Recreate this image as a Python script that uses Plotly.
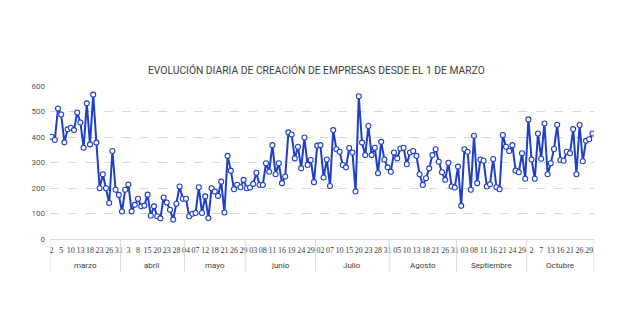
import plotly.graph_objects as go

# Días laborables desde el 2 de marzo, agrupados por mes
meses = ["marzo", "abril", "mayo", "junio", "Julio", "Agosto", "Septiembre", "Octubre"]
dias_marzo = [2, 3, 4, 5, 6, 9, 10, 11, 12, 13, 16, 17, 18, 19, 20, 23, 24, 25, 26, 27, 30, 31]
dias_abril = [1, 2, 3, 6, 7, 8, 13, 14, 15, 16, 17, 20, 21, 22, 23, 24, 27, 28, 29, 30]
dias_mayo = [4, 5, 6, 7, 8, 11, 12, 13, 14, 18, 19, 20, 21, 22, 25, 26, 27, 28, 29]
dias_junio = [1, 2, 3, 4, 5, 8, 9, 10, 11, 12, 15, 16, 17, 18, 19, 22, 23, 24, 25, 26, 29, 30]
dias_julio = [1, 2, 3, 6, 7, 8, 9, 10, 13, 14, 15, 16, 17, 20, 21, 22, 23, 24, 27, 28, 29, 30, 31]
dias_agosto = [3, 4, 5, 6, 7, 10, 11, 12, 13, 14, 17, 18, 19, 20, 21, 24, 25, 26, 27, 28, 31]
dias_septiembre = [1, 2, 3, 4, 7, 8, 9, 10, 11, 14, 15, 16, 17, 18, 21, 22, 23, 24, 25, 28, 29, 30]
dias_octubre = [1, 2, 5, 6, 7, 8, 9, 13, 14, 15, 16, 19, 20, 21, 22, 23, 26, 27, 28, 29, 30]
dias_por_mes = [dias_marzo, dias_abril, dias_mayo, dias_junio,
                dias_julio, dias_agosto, dias_septiembre, dias_octubre]

# Empresas creadas cada día
valores = [
    401, 388, 512, 488, 379, 430, 436, 427, 496, 457, 358, 532, 371, 566, 378,
    199, 254, 199, 141, 345, 193, 173, 108, 193, 214, 108, 134, 158, 128,
    131, 174, 91, 128, 89, 81, 163, 143, 115, 76, 138, 206, 158, 158, 89, 99,
    102, 203, 102, 167, 82, 199, 186, 169, 225, 104, 326, 268, 195, 213,
    203, 232, 199, 202, 216, 260, 212, 212, 297, 264, 368, 254, 297, 219, 245,
    418, 410, 316, 362, 277, 398, 290, 310, 223, 366, 368, 241, 312, 208, 427,
    352, 342, 290, 281, 357, 339, 186, 560, 378, 329, 443, 329, 358, 258, 381,
    312, 281, 264, 339, 316, 355, 358, 293, 339, 345, 326, 254, 212, 238, 277,
    329, 352, 303, 262, 232, 299, 206, 202, 284, 130, 352, 342, 193, 405, 219,
    312, 307, 206, 215, 314, 203, 195, 408, 362, 345, 368, 268, 262, 336, 236,
    469, 312, 236, 414, 315, 453, 254, 297, 353, 448, 310, 307, 342, 336, 431,
    254, 447, 305, 385, 391, 414,
]

# Etiquetas del eje X (una de cada tres jornadas)
etiquetas = ["2", "5", "10", "13", "18", "23", "26", "31",
             "3", "8", "15", "20", "23", "28",
             "04", "07", "12", "18", "21", "26", "29",
             "03", "08", "11", "16", "19", "24", "29",
             "02", "07", "10", "15", "20", "23", "28", "31",
             "05", "10", "13", "18", "21", "26", "31",
             "03", "08", "11", "16", "21", "24", "29",
             "2", "7", "13", "16", "21", "26", "29"]

marcas_y = [0, 100, 200, 300, 400, 500, 600]

x = list(range(len(valores)))
azul = "#1E3FC8"
gris_linea = "#d9d9d9"
fuente = "Roboto"
fuente_estrecha = "Liberation Sans Narrow"

fig = go.Figure()
fig.add_trace(go.Scatter(
    x=x, y=valores, mode="lines+markers",
    line=dict(color=azul, width=2),
    marker=dict(symbol="circle", size=5, color="white",
                line=dict(color=azul, width=1.1)),
    hoverinfo="y", showlegend=False,
))

# Separadores y nombres de los meses bajo el eje
shapes = []
annotations = []
inicio = 0
bordes = [-0.5]
for nombre, dias in zip(meses, dias_por_mes):
    fin = inicio + len(dias)
    bordes.append(fin - 0.5)
    annotations.append(dict(
        x=(inicio + fin - 1) / 2, y=0, xref="x", yref="paper",
        text=nombre, showarrow=False, yanchor="middle", yshift=-26,
        font=dict(family=fuente, size=8, color="#404040"),
    ))
    inicio = fin

for b in bordes:
    shapes.append(dict(type="line", xref="x", yref="paper",
                       x0=b, x1=b, y0=0, y1=-0.215,
                       line=dict(color=gris_linea, width=1)))

annotations.append(dict(
    x=0.489, y=1, xref="paper", yref="paper",
    text="EVOLUCIÓN DIARIA DE CREACIÓN DE EMPRESAS DESDE EL 1 DE MARZO",
    showarrow=False, yanchor="middle", yshift=16,
    font=dict(family=fuente, size=10.3, color="#404040"),
))

fig.update_layout(
    width=640, height=335,
    margin=dict(l=50, r=46, t=86, b=96),
    paper_bgcolor="white", plot_bgcolor="white",
    shapes=shapes, annotations=annotations,
    xaxis=dict(
        range=[-0.5, len(valores) - 0.5],
        tickmode="array", tickvals=x[::3], ticktext=etiquetas,
        tickangle=0, showgrid=False, zeroline=False,
        showline=True, linecolor=gris_linea, linewidth=1,
        ticks="", ticklabelstandoff=3,
        tickfont=dict(family=fuente_estrecha, size=8, color="#404040"),
    ),
    yaxis=dict(
        range=[0, 600], tickmode="array", tickvals=marcas_y,
        showgrid=True, gridcolor=gris_linea, griddash="dash", gridwidth=1,
        zeroline=False, showline=False, ticks="",
        ticklabelstandoff=4,
        tickfont=dict(family=fuente, size=8, color="#595959"),
    ),
)

fig.write_html("out.html")
